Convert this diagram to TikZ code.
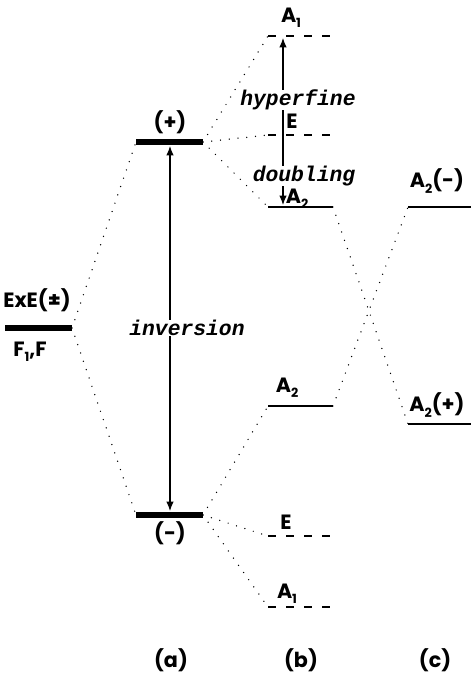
\documentclass[tikz,border=0pt]{standalone}
\usepackage{fontspec}
\newfontfamily\lvlfont{Poppins}
\newfontfamily\cmtfont{Liberation Mono}
\usetikzlibrary{arrows.meta}
\newcommand{\lsub}[1]{\raisebox{-0.45ex}{\fontsize{9.5}{10}\selectfont #1}}
\tikzset{
  mainlvl/.style={line width=5.2pt},
  sublvl/.style={line width=0.8pt},
  dashlvl/.style={line width=0.8pt, dash pattern=on 6pt off 7.5pt},
  dotlink/.style={line width=1.1pt, line cap=round, dash pattern=on 0pt off 6.6pt},
  splitarrow/.style={{Latex[length=7pt,width=5.5pt]}-{Latex[length=7pt,width=5.5pt]}, line width=0.8pt},
  lvllabel/.style={font=\lvlfont\bfseries\fontsize{15.5}{16}\selectfont, inner sep=1pt},
  cmtlabel/.style={font=\cmtfont\bfseries\itshape\fontsize{16}{16}\selectfont, fill=white, inner xsep=1pt, inner ysep=0pt}
}
\begin{document}
\begin{tikzpicture}[x=0.75pt, y=-0.75pt]
  \useasboundingbox (0,0) rectangle (473,674);
  % (a) levels
  \coordinate (ll) at (5,328);   \coordinate (lr) at (72,328);
  \coordinate (pl) at (136,142); \coordinate (pr) at (203,142); \coordinate (pm) at (170,142);
  \coordinate (ml) at (136,515); \coordinate (mr) at (203,515); \coordinate (mm) at (170,515);
  \draw[mainlvl] (ll) -- (lr);
  \draw[mainlvl] (pl) -- (pr);
  \draw[mainlvl] (ml) -- (mr);
  % (b) levels
  \coordinate (ba1l) at (268,36);  \coordinate (ba1r) at (333,36);
  \coordinate (be1l) at (268,135); \coordinate (be1r) at (333,135);
  \coordinate (bu2l) at (268,207); \coordinate (bu2r) at (333,207);
  \coordinate (bd2l) at (268,406); \coordinate (bd2r) at (333,406);
  \coordinate (be2l) at (268,536); \coordinate (be2r) at (333,536);
  \coordinate (bb1l) at (268,607); \coordinate (bb1r) at (333,607);
  \draw[dashlvl] (ba1l) -- (ba1r);
  \draw[dashlvl] (be1l) -- (be1r);
  \draw[sublvl] (bu2l) -- (bu2r);
  \draw[sublvl] (bd2l) -- (bd2r);
  \draw[dashlvl] (be2l) -- (be2r);
  \draw[dashlvl] (bb1l) -- (bb1r);
  % (c) levels
  \coordinate (cml) at (408,207); \coordinate (cmr) at (471,207);
  \coordinate (cpl) at (408,424); \coordinate (cpr) at (471,424);
  \draw[sublvl] (cml) -- (cmr);
  \draw[sublvl] (cpl) -- (cpr);
  % correlation lines
  \draw[dotlink] (lr) -- (pl);
  \draw[dotlink] (lr) -- (ml);
  \draw[dotlink] (pr) -- (ba1l);
  \draw[dotlink] (pr) -- (be1l);
  \draw[dotlink] (pr) -- (bu2l);
  \draw[dotlink] (mr) -- (bd2l);
  \draw[dotlink] (mr) -- (be2l);
  \draw[dotlink] (mr) -- (bb1l);
  \draw[dotlink] (bu2r) -- (cpl);
  \draw[dotlink] (bd2r) -- (cml);
  % splittings
  \coordinate (ht) at (283,38);
  \coordinate (hb) at (283,205);
  \draw[splitarrow] ([yshift=-3pt]pm) -- ([yshift=3pt]mm);
  \draw[splitarrow] (hb) -- (ht);
  \node[cmtlabel] (inv) at (187,328) {inversion};
  \node[cmtlabel] (hyp) at (298,100) {hyperfine};
  \node[cmtlabel] (dbl) at (304,176) {doubling};
  % labels
  \node[lvllabel] (exe) at (37,300) {ExE(±)};
  \node[lvllabel] (ff) at (30,352) {F\lsub{1},F};
  \node[lvllabel] (plus) at (170,122) {(+)};
  \node[lvllabel] (minus) at (170,533) {(-)};
  \node[lvllabel] (la1) at (291,18) {A\lsub{1}};
  \node[lvllabel] (le1) at (292,121) {E};
  \node[lvllabel] (lu2) at (297,199) {A\lsub{2}};
  \node[lvllabel] (ld2) at (287,388) {A\lsub{2}};
  \node[lvllabel] (le2) at (286,522) {E};
  \node[lvllabel] (lb1) at (287,594) {A\lsub{1}};
  \node[lvllabel] (lcm) at (437,181) {A\lsub{2}(-)};
  \node[lvllabel] (lcp) at (437,405) {A\lsub{2}(+)};
  \node[lvllabel] (cola) at (171,660) {(a)};
  \node[lvllabel] (colb) at (301,660) {(b)};
  \node[lvllabel] (colc) at (435,660) {(c)};
\end{tikzpicture}
\end{document}
